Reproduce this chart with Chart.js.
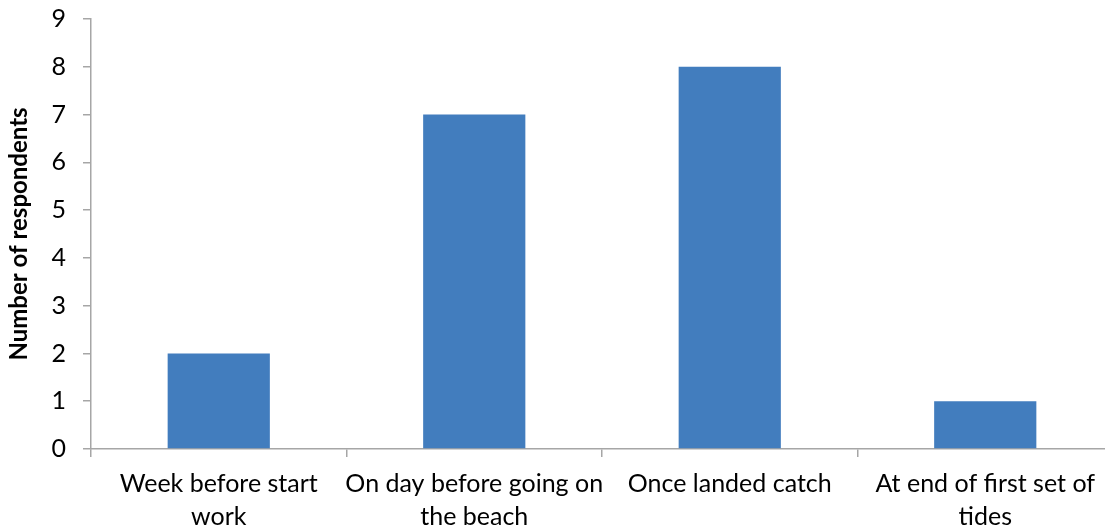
<!DOCTYPE html>
<html>
<head>
<meta charset="utf-8">
<script src="https://cdn.jsdelivr.net/npm/chart.js@4.4.1/dist/chart.umd.min.js"></script>
<style>
  html, body { margin: 0; padding: 0; background: #fff; overflow: hidden; }
  #wrap { position: relative; width: 1113px; height: 529px; }
</style>
</head>
<body>
<div id="wrap"><canvas id="c"></canvas></div>
<script>
// Timing of respondents' action
const categories = [
  ['Week before start', 'work'],
  ['On day before going on', 'the beach'],
  ['Once landed catch'],
  ['At end of first set of', 'tides']
];
const respondents = [2, 7, 8, 1];
const yTicks = [0, 1, 2, 3, 4, 5, 6, 7, 8, 9];

const FONT = 'Lato, "Open Sans", sans-serif';
const AXIS = '#a6a6a6';

new Chart(document.getElementById('c'), {
  type: 'bar',
  data: {
    labels: categories,
    datasets: [{
      data: respondents,
      backgroundColor: '#427dbe',
      borderWidth: 0,
      categoryPercentage: 1,
      barPercentage: 0.4
    }]
  },
  options: {
    responsive: true,
    maintainAspectRatio: false,
    animation: false,
    layout: { padding: { top: 0, right: 0, bottom: 0, left: 0 } },
    plugins: { legend: { display: false }, tooltip: { enabled: false } },
    scales: {
      x: {
        afterFit: (s) => { s.height = 80; },
        grid: { offset: true, drawOnChartArea: false, drawTicks: true, tickLength: 8, color: AXIS, lineWidth: 1.5 },
        border: { color: AXIS, width: 1.5 },
        ticks: { color: '#000', font: { family: FONT, size: 25, lineHeight: 1.3 }, padding: 11, maxRotation: 0, autoSkip: false }
      },
      y: {
        min: 0, max: 9,
        afterFit: (s) => { s.width = 91; s.paddingTop = 19; },
        afterBuildTicks: (s) => { s.ticks = yTicks.map(v => ({ value: v })); },
        grid: { drawOnChartArea: false, drawTicks: true, tickLength: 8, color: AXIS, lineWidth: 1.5 },
        border: { color: AXIS, width: 1.5 },
        ticks: { color: '#000', font: { family: FONT, size: 25 }, padding: 17 },
        title: { display: true, text: 'Number of respondents', color: '#000', font: { family: FONT, size: 24, weight: 'bold' }, padding: { top: 5, bottom: 0 } }
      }
    }
  }
});
</script>
</body>
</html>
